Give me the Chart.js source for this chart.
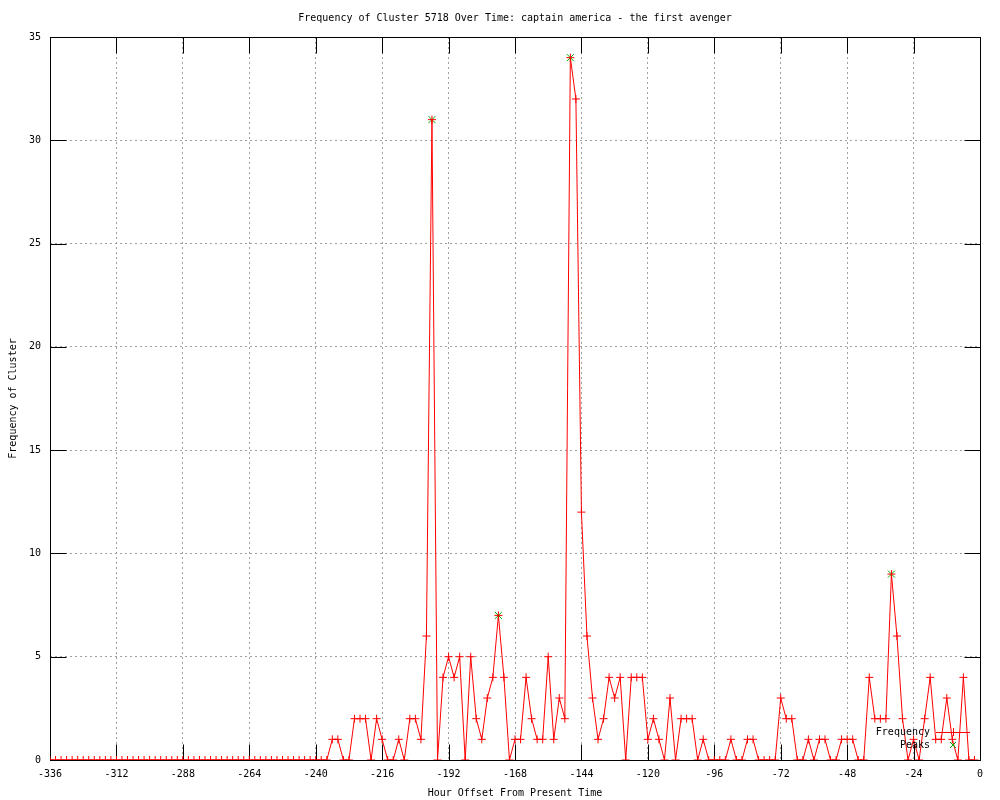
<!DOCTYPE html>
<html lang="en">
<head>
    <meta charset="UTF-8">
    <title>Frequency of Cluster 5718 Over Time</title>
    <script src="https://cdn.jsdelivr.net/npm/chart.js"></script>
    <style>
        body {
            margin: 0;
            background: #fff;
        }
        #chart {
            display: block;
        }
    </style>
</head>
<body>
    <canvas id="chart" width="1000" height="800"></canvas>

    <script>
        // hour offsets, one bin every 2 hours
        const hours = [
            -336, -334, -332, -330, -328, -326, -324, -322, -320, -318, -316, -314,
            -312, -310, -308, -306, -304, -302, -300, -298, -296, -294, -292, -290,
            -288, -286, -284, -282, -280, -278, -276, -274, -272, -270, -268, -266,
            -264, -262, -260, -258, -256, -254, -252, -250, -248, -246, -244, -242,
            -240, -238, -236, -234, -232, -230, -228, -226, -224, -222, -220, -218,
            -216, -214, -212, -210, -208, -206, -204, -202, -200, -198, -196, -194,
            -192, -190, -188, -186, -184, -182, -180, -178, -176, -174, -172, -170,
            -168, -166, -164, -162, -160, -158, -156, -154, -152, -150, -148, -146,
            -144, -142, -140, -138, -136, -134, -132, -130, -128, -126, -124, -122,
            -120, -118, -116, -114, -112, -110, -108, -106, -104, -102, -100, -98,
            -96, -94, -92, -90, -88, -86, -84, -82, -80, -78, -76, -74,
            -72, -70, -68, -66, -64, -62, -60, -58, -56, -54, -52, -50,
            -48, -46, -44, -42, -40, -38, -36, -34, -32, -30, -28, -26,
            -24, -22, -20, -18, -16, -14, -12, -10, -8, -6, -4, -2
        ];
        const frequency = [
            0, 0, 0, 0, 0, 0, 0, 0, 0, 0, 0, 0,
            0, 0, 0, 0, 0, 0, 0, 0, 0, 0, 0, 0,
            0, 0, 0, 0, 0, 0, 0, 0, 0, 0, 0, 0,
            0, 0, 0, 0, 0, 0, 0, 0, 0, 0, 0, 0,
            0, 0, 0, 1, 1, 0, 0, 2, 2, 2, 0, 2,
            1, 0, 0, 1, 0, 2, 2, 1, 6, 31, 0, 4,
            5, 4, 5, 0, 5, 2, 1, 3, 4, 7, 4, 0,
            1, 1, 4, 2, 1, 1, 5, 1, 3, 2, 34, 32,
            12, 6, 3, 1, 2, 4, 3, 4, 0, 4, 4, 4,
            1, 2, 1, 0, 3, 0, 2, 2, 2, 0, 1, 0,
            0, 0, 0, 1, 0, 0, 1, 1, 0, 0, 0, 0,
            3, 2, 2, 0, 0, 1, 0, 1, 1, 0, 0, 1,
            1, 1, 0, 0, 4, 2, 2, 2, 9, 6, 2, 0,
            1, 0, 2, 4, 1, 1, 3, 1, 0, 4, 0, 0
        ];
        const peakHours = [-198, -174, -148, -32];
        const peakValues = [31, 7, 34, 9];

        const mono = '"DejaVu Sans Mono", "Liberation Mono", monospace';
        const TICK_LEN = 16;

        // gnuplot style frame, inward ticks (mirrored) and the key
        const gnuplotBits = {
            id: 'gnuplotBits',
            beforeDatasetsDraw(chart) {
                const {ctx, chartArea: a, scales: {x, y}} = chart;
                const L = Math.round(a.left) + 0.5, R = Math.round(a.right) + 0.5;
                const T = Math.round(a.top) + 0.5, B = Math.round(a.bottom) + 0.5;
                ctx.save();
                ctx.strokeStyle = '#000';
                ctx.lineWidth = 1;
                ctx.beginPath();
                x.ticks.forEach(t => {
                    const px = Math.round(x.getPixelForValue(t.value)) + 0.5;
                    ctx.moveTo(px, B); ctx.lineTo(px, B - TICK_LEN);
                    ctx.moveTo(px, T); ctx.lineTo(px, T + TICK_LEN);
                });
                y.ticks.forEach(t => {
                    const py = Math.round(y.getPixelForValue(t.value)) + 0.5;
                    ctx.moveTo(L, py); ctx.lineTo(L + TICK_LEN, py);
                    ctx.moveTo(R, py); ctx.lineTo(R - TICK_LEN, py);
                });
                ctx.stroke();
                ctx.strokeRect(L, T, R - L, B - T);
                ctx.restore();
            },
            afterDatasetsDraw(chart) {
                const {ctx, chartArea: a} = chart;
                const textX = a.right - 50;
                const sx = a.right - 27;
                const y1 = a.bottom - 28, y2 = a.bottom - 15;
                ctx.save();
                ctx.font = '10px ' + mono;
                ctx.fillStyle = '#000';
                ctx.textAlign = 'right';
                ctx.textBaseline = 'middle';
                ctx.fillText('Frequency', textX, y1);
                ctx.fillText('Peaks', textX, y2);

                ctx.lineWidth = 1;
                ctx.strokeStyle = '#ff0000';
                ctx.beginPath();
                ctx.moveTo(a.right - 44, y1 + 0.5); ctx.lineTo(a.right - 10, y1 + 0.5);
                ctx.moveTo(sx - 4, y1 + 0.5); ctx.lineTo(sx + 4, y1 + 0.5);
                ctx.moveTo(sx + 0.5, y1 - 4); ctx.lineTo(sx + 0.5, y1 + 4);
                ctx.stroke();

                ctx.strokeStyle = '#00b000';
                ctx.beginPath();
                ctx.moveTo(sx - 3, y2 - 3); ctx.lineTo(sx + 3, y2 + 3);
                ctx.moveTo(sx - 3, y2 + 3); ctx.lineTo(sx + 3, y2 - 3);
                ctx.stroke();
                ctx.restore();
            }
        };

        new Chart(document.getElementById('chart'), {
            type: 'line',
            data: {
                datasets: [{
                    label: 'Frequency',
                    data: hours.map((h, i) => ({x: h, y: frequency[i]})),
                    borderColor: '#ff0000',
                    borderWidth: 1,
                    tension: 0,
                    pointStyle: 'cross',
                    pointRadius: 4,
                    pointBorderWidth: 1,
                    pointBorderColor: '#ff0000',
                    pointBackgroundColor: '#ff0000',
                    order: 0
                }, {
                    label: 'Peaks',
                    data: peakHours.map((h, i) => ({x: h, y: peakValues[i]})),
                    showLine: false,
                    pointStyle: 'crossRot',
                    pointRadius: 5,
                    pointBorderWidth: 1,
                    pointBorderColor: '#00b000',
                    pointBackgroundColor: '#00b000',
                    order: 1
                }]
            },
            options: {
                responsive: false,
                animation: false,
                events: [],
                layout: {
                    padding: {left: 0, right: 20, top: 0, bottom: 0}
                },
                plugins: {
                    legend: {display: false},
                    tooltip: {enabled: false},
                    title: {
                        display: true,
                        fullSize: false,
                        text: 'Frequency of Cluster 5718 Over Time: captain america - the first avenger',
                        color: '#000',
                        font: {family: mono, size: 10, weight: 'normal', lineHeight: '13px'},
                        padding: {top: 12, bottom: 12}
                    }
                },
                scales: {
                    x: {
                        type: 'linear',
                        min: -336,
                        max: 0,
                        afterFit: s => { s.height = 40; },
                        ticks: {
                            stepSize: 24,
                            autoSkip: false,
                            maxRotation: 0,
                            padding: 8,
                            color: '#000',
                            font: {family: mono, size: 10}
                        },
                        grid: {
                            color: '#a0a0a0',
                            lineWidth: 1,
                            drawTicks: false
                        },
                        border: {display: false, dash: [2, 3]},
                        title: {
                            display: true,
                            text: 'Hour Offset From Present Time',
                            color: '#000',
                            font: {family: mono, size: 10},
                            padding: {top: 0, bottom: 1}
                        }
                    },
                    y: {
                        min: 0,
                        max: 35,
                        afterFit: s => { s.width = 50; },
                        ticks: {
                            stepSize: 5,
                            padding: 9,
                            color: '#000',
                            font: {family: mono, size: 10}
                        },
                        grid: {
                            color: '#a0a0a0',
                            lineWidth: 1,
                            drawTicks: false
                        },
                        border: {display: false, dash: [2, 3]},
                        title: {
                            display: true,
                            text: 'Frequency of Cluster',
                            color: '#000',
                            font: {family: mono, size: 10},
                            padding: {top: 7, bottom: 0}
                        }
                    }
                }
            },
            plugins: [gnuplotBits]
        });
    </script>
</body>
</html>
